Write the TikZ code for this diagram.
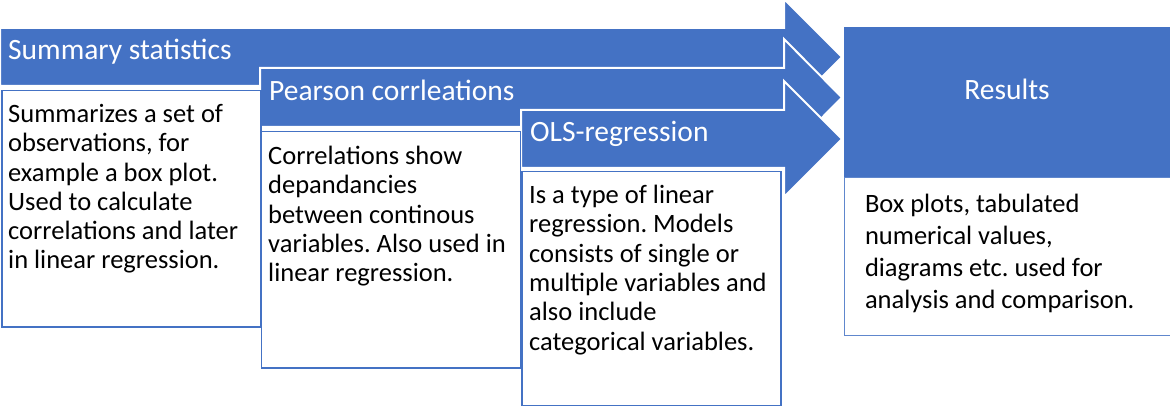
\documentclass[tikz,border=0pt]{standalone}
\usepackage{fontspec}
\setmainfont{Carlito}
\frenchspacing
\usetikzlibrary{positioning}
\definecolor{officeblue}{HTML}{4472C4}
\tikzset{
    steparrow/.style={
        fill=officeblue,
        draw=white,
        line width=2pt
    },
    descbox/.style={
        draw=officeblue,
        fill=white,
        line width=1.5pt,
        anchor=north west,
        minimum width=259pt,
        minimum height=236pt,
        inner sep=0pt
    },
    resultbar/.style={fill=officeblue, anchor=north west, minimum width=326pt, minimum height=150pt, inner sep=0pt},
    resultbox/.style={draw=officeblue!85, fill=white, line width=0.8pt, minimum width=326pt, minimum height=158pt, inner sep=0pt},
    titletext/.style={text=white, font=\fontsize{29.5}{35}\selectfont, inner sep=0pt},
    bodytext/.style={font=\fontsize{26.5}{29.3}\selectfont, align=left, anchor=north west, inner sep=0pt}
}

\begin{document}
\begin{tikzpicture}[x=1pt,y=-1pt]
\useasboundingbox (0,0) rectangle (1170,406);

% arrows
\draw[steparrow] (0,28) -- (784,28) -- (784,-1) -- (842,57) -- (784,115) -- (784,86) -- (0,86) -- cycle;
\draw[steparrow] (260,68) -- (784,68) -- (784,39) -- (842,97.5) -- (784,156) -- (784,127) -- (260,127) -- cycle;
\draw[steparrow] (521,110) -- (784,110) -- (784,81) -- (842,139) -- (784,197) -- (784,168) -- (521,168) -- cycle;

\node[titletext, anchor=base west] (sumtitle) at (8,59.5) {Summary statistics};
\node[titletext, anchor=base west] (peartitle) at (269,101) {Pearson corrleations};
\node[titletext, anchor=base west] (olstitle) at (530,142) {OLS-regression};

% text boxes
\node[descbox] (sumbox) at (1,90) {};
\node[descbox] (pearbox) at (260.5,131) {};
\node[descbox, minimum height=234pt] (olsbox) at (521,171) {};

\node[bodytext] (sumtext) at ([shift={(7,14)}]sumbox.north west)
    {Summarizes a set of\\observations, for\\example a box plot.\\Used to calculate\\correlations and later\\in linear regression.};
\node[bodytext] (peartext) at ([shift={(7.5,15)}]pearbox.north west)
    {Correlations show\\depandancies\\between continous\\variables. Also used in\\linear regression.};
\node[bodytext] (olstext) at ([shift={(8,14)}]olsbox.north west)
    {Is a type of linear\\regression. Models\\consists of single or\\multiple variables and\\also include\\categorical variables.};

% results
\node[resultbar] (resbar) at (844,27) {};
\node[resultbox, below=0pt of resbar] (resbox) {};
\node[titletext, anchor=base] (restitle) at (1007,100) {Results};
\node[bodytext, font=\fontsize{26.5}{32.2}\selectfont] (restext) at ([shift={(21,16)}]resbox.north west)
    {Box plots, tabulated\\numerical values,\\diagrams etc. used for\\analysis and comparison.};
\end{tikzpicture}
\end{document}
